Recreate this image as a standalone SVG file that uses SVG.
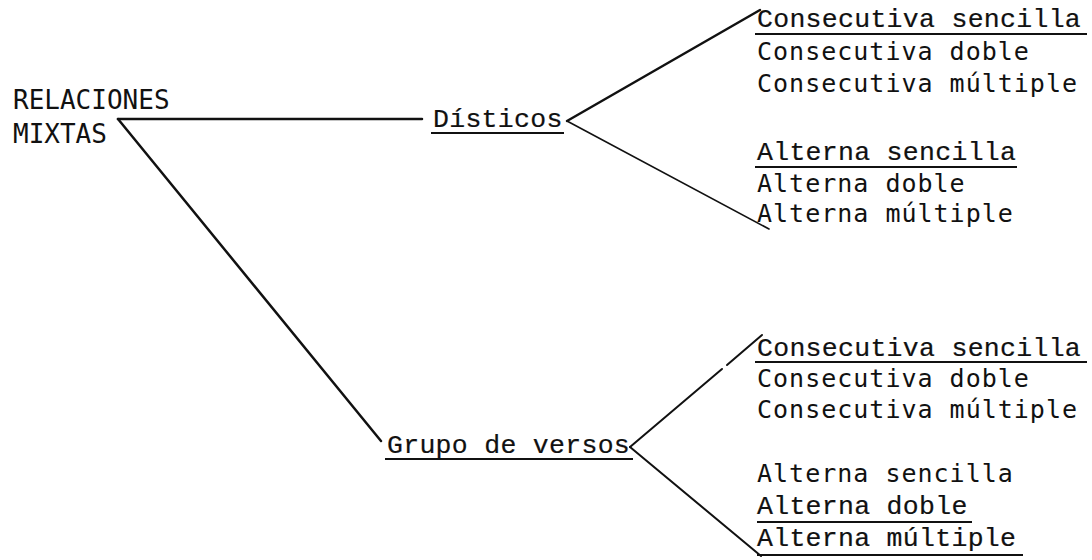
<svg xmlns="http://www.w3.org/2000/svg" width="1092" height="560" viewBox="0 0 1092 560">
<style>
.sans{font-family:"DejaVu Sans Mono","Liberation Mono",monospace;font-size:25px;letter-spacing:1px;fill:#111}
.big{font-family:"DejaVu Sans Mono","Liberation Mono",monospace;font-size:26px;fill:#111}
.ser{font-family:"Liberation Mono","Courier New",monospace;font-size:26.5px;letter-spacing:0.3px;fill:#111;stroke:#111;stroke-width:0.2}
.ul{stroke:#111;stroke-width:2;fill:none}
.c{stroke:#111;fill:none;stroke-linecap:round}
</style>
<rect width="1092" height="560" fill="#fff"/>
<g id="connectors">
<line class="c" x1="118" y1="119" x2="422" y2="119" stroke-width="2.5"/>
<line class="c" x1="118" y1="119" x2="381" y2="441" stroke-width="2.5"/>
<line class="c" x1="567" y1="121" x2="760" y2="10" stroke-width="2.5"/>
<line class="c" x1="567" y1="121" x2="769" y2="229" stroke-width="1.6"/>
<line class="c" x1="630" y1="447" x2="722" y2="369" stroke-width="2"/>
<line class="c" x1="727" y1="365" x2="762" y2="335" stroke-width="2"/>
<line class="c" x1="630" y1="447" x2="761" y2="556" stroke-width="2"/>
</g>
<g id="root">
<text class="big" x="13" y="109">RELACIONES</text>
<text class="big" x="13" y="143">MIXTAS</text>
</g>
<g id="disticos">
<text class="ser" x="433" y="127">Dísticos</text>
<line class="ul" x1="431" y1="133" x2="564" y2="133" stroke-width="2.5"/>
</g>
<g id="grupo">
<text class="ser" x="387" y="453">Grupo de versos</text>
<line class="ul" x1="385" y1="459" x2="633" y2="459" stroke-width="2.5"/>
</g>
<g id="d-consecutiva">
<text class="ser" x="757" y="27">Consecutiva sencilla</text>
<line class="ul" x1="755" y1="34" x2="1087" y2="34"/>
<text class="sans" x="757" y="60">Consecutiva doble</text>
<text class="sans" x="757" y="92">Consecutiva múltiple</text>
</g>
<g id="d-alterna">
<text class="ser" x="757" y="160">Alterna sencilla</text>
<line class="ul" x1="755" y1="167" x2="1017" y2="167"/>
<text class="sans" x="757" y="192">Alterna doble</text>
<text class="sans" x="757" y="222">Alterna múltiple</text>
</g>
<g id="g-consecutiva">
<text class="ser" x="757" y="356">Consecutiva sencilla</text>
<line class="ul" x1="755" y1="362" x2="1087" y2="362"/>
<text class="sans" x="757" y="387">Consecutiva doble</text>
<text class="sans" x="757" y="418">Consecutiva múltiple</text>
</g>
<g id="g-alterna">
<text class="sans" x="757" y="482">Alterna sencilla</text>
<text class="ser" x="757" y="514">Alterna doble</text>
<line class="ul" x1="757" y1="522" x2="972" y2="522"/>
<text class="ser" x="757" y="546">Alterna múltiple</text>
<line class="ul" x1="757" y1="555" x2="1023" y2="555"/>
</g>
</svg>
